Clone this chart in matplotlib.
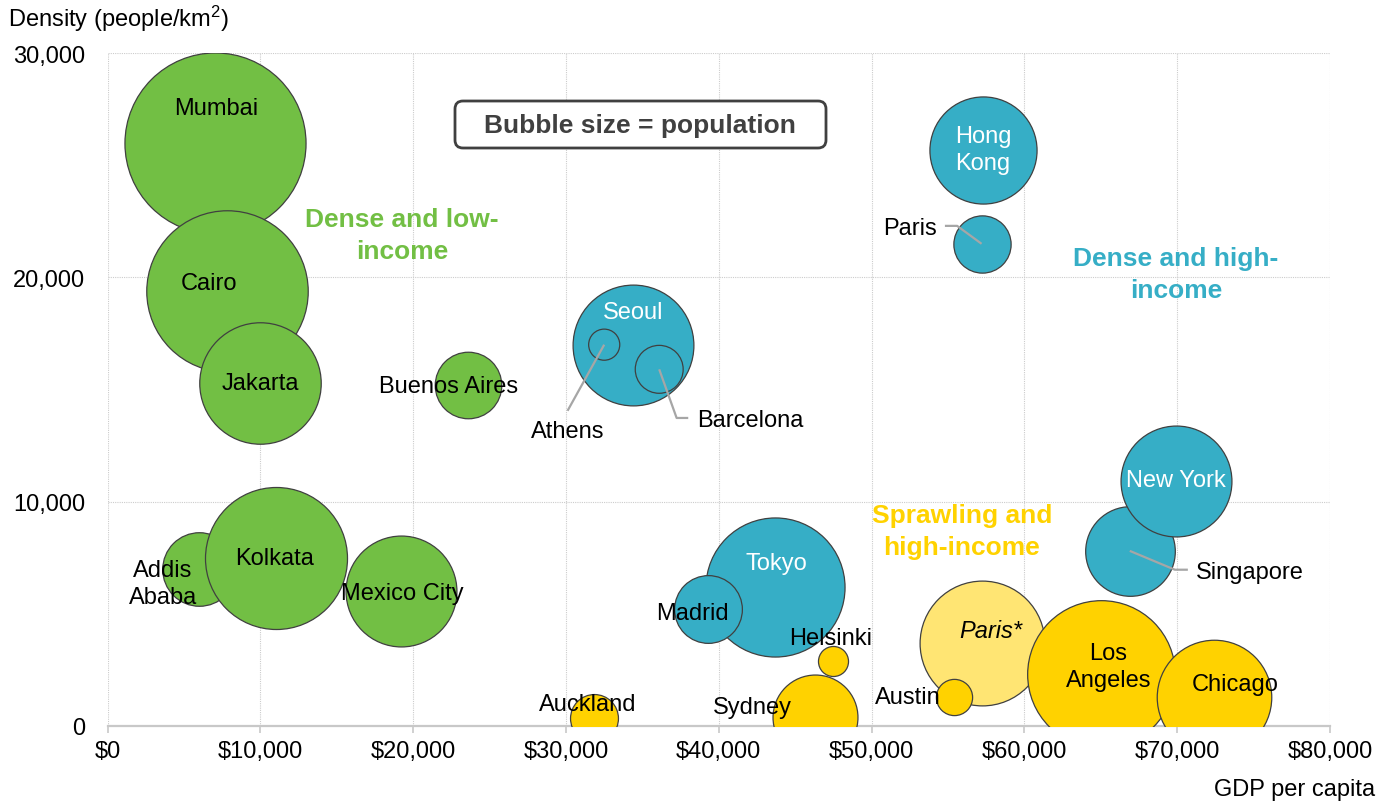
import matplotlib.pyplot as plt
from matplotlib.patches import FancyBboxPatch
from matplotlib.ticker import FuncFormatter, MultipleLocator
from matplotlib.transforms import IdentityTransform

plt.rcParams["font.family"] = ["Liberation Sans", "DejaVu Sans"]
plt.rcParams["mathtext.fontset"] = "custom"
plt.rcParams["mathtext.rm"] = "Liberation Sans"
plt.rcParams["mathtext.it"] = "Liberation Sans:italic"

# ── Datos: PIB per cápita (USD), densidad (hab/km²), población (millones) ──
cities = ["Mumbai", "Cairo", "Jakarta", "Buenos Aires", "Addis Ababa", "Kolkata",
          "Mexico City", "Seoul", "Athens", "Barcelona", "Hong Kong", "Paris",
          "Singapore", "New York", "Tokyo", "Madrid", "Helsinki", "Sydney",
          "Auckland", "Paris*", "Austin", "Los Angeles", "Chicago"]
gdp = [7000, 7800, 10000, 23600, 6000, 11000,
       19200, 34400, 32500, 36100, 57300, 57200,
       66900, 69900, 43700, 39300, 47500, 46300,
       31800, 57200, 55400, 65000, 72400]
density = [26000, 19400, 15300, 15200, 7000, 7500,
           6000, 17000, 17000, 15900, 25700, 21500,
           7800, 10900, 6200, 5200, 2900, 400,
           350, 3700, 1300, 2300, 1300]
population = [20.0, 15.9, 9.0, 2.7, 3.3, 12.3,
              7.5, 8.9, 0.59, 1.4, 7.0, 2.0,
              4.9, 7.5, 11.8, 2.8, 0.55, 4.4,
              1.4, 9.5, 0.8, 13.3, 8.0]
group = ["low", "low", "low", "low", "low", "low",
         "low", "high", "outline", "outline", "high", "high",
         "high", "high", "high", "high", "sprawl", "sprawl",
         "sprawl", "paris_metro", "sprawl", "sprawl", "sprawl"]

GREEN = "#72BF44"
BLUE = "#36AEC6"
YELLOW = "#FFD200"
colores = {"low": GREEN, "high": BLUE, "sprawl": YELLOW,
           "paris_metro": "#FFE573", "outline": "none"}

# Etiquetas: (x, y, alineación, color, estilo)
etiquetas = {
    "Mumbai": (7100, 27550, "center", "black", "normal"),
    "Cairo": (6600, 19750, "center", "black", "normal"),
    "Jakarta": (10000, 15300, "center", "black", "normal"),
    "Buenos Aires": (22300, 15150, "center", "black", "normal"),
    "Addis Ababa": (3600, 6350, "center", "black", "normal"),
    "Kolkata": (10900, 7500, "center", "black", "normal"),
    "Mexico City": (19300, 5900, "center", "black", "normal"),
    "Seoul": (34400, 18450, "center", "white", "normal"),
    "Athens": (30100, 13150, "center", "black", "normal"),
    "Barcelona": (38600, 13650, "left", "black", "normal"),
    "Hong Kong": (57300, 25700, "center", "white", "normal"),
    "Paris": (54300, 22200, "right", "black", "normal"),
    "Singapore": (71200, 6850, "left", "black", "normal"),
    "New York": (69900, 10950, "center", "white", "normal"),
    "Tokyo": (43800, 7250, "center", "white", "normal"),
    "Madrid": (38300, 5050, "center", "black", "normal"),
    "Helsinki": (47300, 3900, "center", "black", "normal"),
    "Sydney": (42200, 850, "center", "black", "normal"),
    "Auckland": (31400, 950, "center", "black", "normal"),
    "Paris*": (57800, 4250, "center", "black", "italic"),
    "Austin": (52400, 1280, "center", "black", "normal"),
    "Los Angeles": (65500, 2650, "center", "black", "normal"),
    "Chicago": (73800, 1850, "center", "black", "normal"),
}
texto_etiqueta = {"Addis Ababa": "Addis\nAbaba", "Hong Kong": "Hong\nKong",
                  "Los Angeles": "Los\nAngeles"}

# Líneas guía (puntos tras el centro de la burbuja)
guias = {
    "Athens": [(30100, 14050)],
    "Barcelona": [(37240, 13730), (38000, 13730)],
    "Paris": [(55600, 22300), (54800, 22300)],
    "Singapore": [(69850, 6960), (70700, 6960)],
}

# ════════════════════════════════════════════════════════════════════════════
fig = plt.figure(figsize=(13.91, 8.03), dpi=100)
ax = fig.add_axes([0.0774, 0.0950, 0.8787, 0.8374])

ax.set_xlim(0, 80000)
ax.set_ylim(0, 30000)
ax.xaxis.set_major_locator(MultipleLocator(10000))
ax.yaxis.set_major_locator(MultipleLocator(10000))
ax.xaxis.set_major_formatter(FuncFormatter(lambda v, _: f"${v:,.0f}"))
ax.yaxis.set_major_formatter(FuncFormatter(lambda v, _: f"{v:,.0f}"))
ax.grid(True, color="#CCCCCC", linestyle=(0, (1, 1)), linewidth=0.8, zorder=0)
ax.set_axisbelow(True)
for s in ["top", "right", "left"]:
    ax.spines[s].set_visible(False)
ax.spines["bottom"].set_color("#C8C8C8")
ax.spines["bottom"].set_linewidth(1.6)
ax.tick_params(axis="x", length=5, width=1.2, color="#C8C8C8", pad=5, labelsize=17)
ax.tick_params(axis="y", length=0, pad=16, labelsize=17)

# ── Burbujas ────────────────────────────────────────────────────────────────
escala = 850  # puntos² por millón de habitantes
for c, x, y, p, g in zip(cities, gdp, density, population, group):
    ax.scatter(x, y, s=p * escala, c=colores[g],
               edgecolors="#404040", linewidths=0.9, zorder=3)

for c, x, y in zip(cities, gdp, density):
    if c in guias:
        pts = [(x, y)] + guias[c]
        ax.plot([q[0] for q in pts], [q[1] for q in pts], color="#A6A6A6",
                lw=1.6, zorder=4, solid_capstyle="butt")
    tx, ty, ha, col, st = etiquetas[c]
    ax.text(tx, ty, texto_etiqueta.get(c, c), ha=ha, va="center", color=col,
            fontsize=17, fontstyle=st, linespacing=1.3, zorder=5)

# ── Rótulos de grupo ────────────────────────────────────────────────────────
ax.text(19260, 21900, "Dense and low-\nincome", color=GREEN, fontsize=19,
        fontweight="bold", ha="center", va="center", linespacing=1.4, zorder=5)
ax.text(69930, 20150, "Dense and high-\nincome", color=BLUE, fontsize=19,
        fontweight="bold", ha="center", va="center", linespacing=1.4, zorder=5)
ax.text(55900, 8700, "Sprawling and\nhigh-income", color=YELLOW, fontsize=19,
        fontweight="bold", ha="center", va="center", linespacing=1.4, zorder=5)

# Recuadro de leyenda (en píxeles de la figura)
caja = FancyBboxPatch((455, 654), 371, 47, boxstyle="round,pad=0,rounding_size=8",
                      fc="white", ec="#404040", lw=2, transform=IdentityTransform(),
                      clip_on=False, zorder=6)
ax.add_artist(caja)
ax.text(34840, 26800, "Bubble size = population", color="#404040", fontsize=19,
        fontweight="bold", ha="center", va="center", zorder=7)

fig.text(8 / 1391, 1 - 19 / 803, r"Density (people/km$^2$)", fontsize=17,
         ha="left", va="center")
fig.text(1375 / 1391, 1 - 790 / 803, "GDP per capita", fontsize=17,
         ha="right", va="center")

plt.savefig("out.png", dpi=100)
